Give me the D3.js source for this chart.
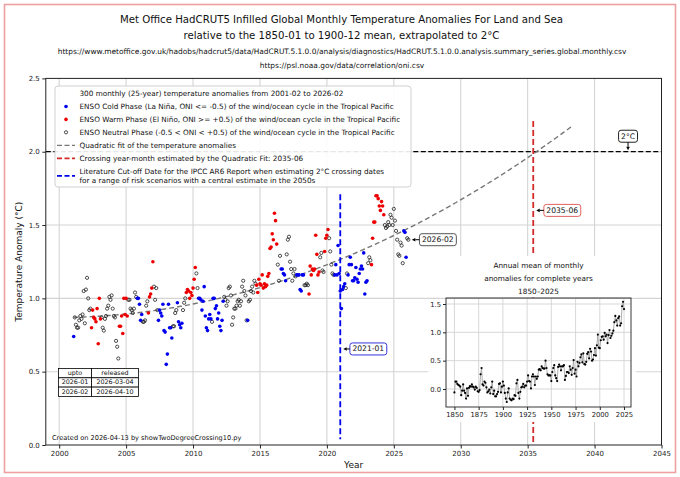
<!DOCTYPE html>
<html>
<head>
<meta charset="utf-8">
<script src="https://cdn.jsdelivr.net/npm/d3@7"></script>
<style>
  body { margin: 0; background: #fff; }
  svg { font-family: "DejaVu Sans", sans-serif; }
</style>
</head>
<body>
<svg id="chart" width="680" height="477"></svg>
<script>
// ---- data ----
const firstYear = 2001, firstMonth = 2;

// monthly anomalies (°C vs 1850-1900), one row per year, 2001 starts in February
const anomalyRows = [
  [0.74, 0.87, 0.82, 0.80, 0.80, 0.85, 0.88, 0.86, 0.89, 1.05, 0.83],
  [1.06, 1.14, 1.00, 0.92, 0.93, 0.80, 0.92, 0.87, 0.86, 0.84, 0.93, 0.69],
  [1.00, 0.86, 0.87, 0.80, 0.78, 0.86, 0.88, 0.93, 0.95, 1.01, 0.99, 1.02],
  [0.93, 0.88, 0.87, 0.71, 0.67, 0.59, 0.81, 0.81, 0.88, 0.76, 1.00, 0.89],
  [1.00, 0.88, 0.99, 0.99, 0.93, 0.92, 0.90, 0.93, 1.04, 1.01, 1.00, 1.00],
  [0.96, 0.85, 0.89, 0.84, 0.84, 0.85, 0.95, 0.98, 0.90, 1.01, 1.03, 1.07],
  [1.25, 1.08, 0.99, 1.07, 0.92, 0.85, 0.92, 0.90, 0.88, 0.96, 0.78, 0.77],
  [0.55, 0.62, 0.96, 0.80, 0.80, 0.73, 0.81, 0.81, 0.90, 0.92, 0.97, 0.84],
  [0.82, 0.80, 0.83, 0.92, 0.97, 1.00, 1.04, 1.06, 1.05, 1.00, 1.04, 1.02],
  [1.07, 1.13, 1.21, 1.17, 1.07, 1.00, 1.00, 0.99, 0.92, 0.98, 1.08, 0.88],
  [0.80, 0.78, 0.86, 0.89, 0.86, 0.84, 1.00, 1.00, 0.93, 0.95, 0.86, 0.90],
  [0.81, 0.78, 0.85, 0.98, 1.01, 0.99, 0.95, 0.98, 1.07, 1.08, 1.02, 0.82],
  [0.87, 0.93, 0.93, 0.95, 0.98, 0.99, 0.95, 0.98, 1.08, 1.12, 1.05, 1.02],
  [0.85, 0.85, 0.98, 0.99, 1.05, 1.08, 1.04, 1.12, 1.10, 1.09, 1.04, 1.13],
  [1.10, 1.09, 1.16, 1.07, 1.10, 1.08, 1.09, 1.15, 1.17, 1.34, 1.35, 1.44],
  [1.40, 1.58, 1.53, 1.37, 1.23, 1.12, 1.29, 1.20, 1.20, 1.17, 1.16, 1.12],
  [1.30, 1.40, 1.42, 1.25, 1.20, 1.12, 1.17, 1.20, 1.15, 1.16, 1.16, 1.16],
  [1.06, 1.05, 1.16, 1.16, 1.09, 1.09, 1.10, 1.09, 1.03, 1.22, 1.16, 1.20],
  [1.19, 1.20, 1.43, 1.30, 1.16, 1.18, 1.28, 1.31, 1.19, 1.18, 1.32, 1.41],
  [1.43, 1.47, 1.41, 1.32, 1.23, 1.17, 1.16, 1.16, 1.23, 1.16, 1.36, 1.17],
  [1.05, 0.93, 1.06, 1.08, 1.10, 1.07, 1.17, 1.16, 1.23, 1.28, 1.23, 1.12],
  [1.12, 1.14, 1.21, 1.13, 1.11, 1.17, 1.20, 1.22, 1.20, 1.31, 1.03, 1.11],
  [1.12, 1.24, 1.28, 1.26, 1.23, 1.41, 1.52, 1.52, 1.70, 1.70, 1.68, 1.63],
  [1.60, 1.66, 1.63, 1.57, 1.50, 1.48, 1.49, 1.52, 1.50, 1.57, 1.55, 1.50],
  [1.61, 1.53, 1.46, 1.40, 1.30, 1.29, 1.38, 1.36, 1.24, 1.46, 1.45, 1.28],
  [1.41, 1.40]
];

// ENSO phase of each month: C = cold (La Niña), W = warm (El Niño), N = neutral
const phaseRows = [
  "CNNNNNNNNNN",
  "NNNNNWWWWWWW",
  "WWNNNNNNNNNN",
  "NNNNNNWWWWWW",
  "WWNNNNNNNNCC",
  "CCCNNNNNWWWW",
  "WNNNNCCCCCCC",
  "CCCCCCNNNNCC",
  "CCCNNNWWWWWW",
  "WWWNNCCCCCCC",
  "CCCCCNCCCCCC",
  "CCCCNNNNNNNN",
  "NNNNNNNNNNNN",
  "NCNNNNNNNWWW",
  "WWWWWWWWWWWW",
  "WWWWNNNCCCCC",
  "NNNNNNNNNCCC",
  "CCCCNNNNWWWW",
  "WWWWWWNNNNWW",
  "WWNNNNNCCCCC",
  "CCCCCNNCCCCC",
  "CCCCCCCCCCCC",
  "CNNNWWWWWWWW",
  "WWWWNNNNNNNN",
  "NNNNNNNNNCCC",
  "NN"
];

// annual means 1850-2025 for the inset
const annualStart = 1850;
const annualMeans = [
  -0.06, 0.13, 0.13, 0.09, 0.07, 0.06, 0.04, -0.11, -0.03, 0.08,
  -0.03, -0.07, -0.17, 0.01, -0.12, 0.02, 0.05, 0.04, 0.08, 0.04,
  0.03, -0.01, 0.04, 0.02, -0.04, -0.05, -0.02, 0.26, 0.37, 0.08,
  0.06, 0.13, 0.11, 0.03, -0.06, -0.04, -0.01, -0.08, 0.03, 0.13,
  -0.09, -0.03, -0.13, -0.13, -0.09, -0.05, 0.09, 0.10, -0.06, 0.04,
  0.13, 0.06, -0.07, -0.17, -0.23, -0.06, 0.01, -0.17, -0.19, -0.20,
  -0.17, -0.18, -0.11, -0.12, 0.10, 0.16, -0.07, -0.17, -0.05, 0.03,
  0.04, 0.09, 0.03, 0.06, 0.06, 0.13, 0.24, 0.14, 0.13, 0.01,
  0.22, 0.26, 0.22, 0.07, 0.22, 0.18, 0.22, 0.34, 0.35, 0.33,
  0.40, 0.37, 0.36, 0.36, 0.50, 0.37, 0.26, 0.24, 0.24, 0.24,
  0.14, 0.30, 0.37, 0.42, 0.24, 0.19, 0.14, 0.39, 0.43, 0.40,
  0.33, 0.40, 0.40, 0.42, 0.16, 0.23, 0.30, 0.30, 0.28, 0.40,
  0.34, 0.25, 0.37, 0.51, 0.27, 0.34, 0.22, 0.48, 0.40, 0.46,
  0.56, 0.61, 0.47, 0.63, 0.44, 0.43, 0.48, 0.62, 0.65, 0.54,
  0.71, 0.66, 0.50, 0.52, 0.60, 0.72, 0.59, 0.77, 0.96, 0.73,
  0.72, 0.86, 0.92, 0.93, 0.87, 0.99, 0.93, 0.96, 0.81, 0.95,
  1.04, 0.90, 0.94, 0.98, 1.03, 1.18, 1.29, 1.21, 1.12, 1.25,
  1.28, 1.12, 1.16, 1.46, 1.54, 1.41
];

const xTicks = [2000, 2005, 2010, 2015, 2020, 2025, 2030, 2035, 2040, 2045];
const yTicks = [0.0, 0.5, 1.0, 1.5, 2.0, 2.5];
const insetXTicks = [1850, 1875, 1900, 1925, 1950, 1975, 2000, 2025];
const insetYTicks = [0.0, 0.5, 1.0, 1.5];

const targetLevel = 2.0;
const crossingLabel = "2035-06";
const ipccCutoffLabel = "2021-01";
const lastLabel = "2026-02";

const titleLines = [
  "Met Office HadCRUT5 Infilled Global Monthly Temperature Anomalies For Land and Sea",
  "relative to the 1850-01 to 1900-12 mean, extrapolated to 2°C"
];
const sourceLines = [
  "https://www.metoffice.gov.uk/hadobs/hadcrut5/data/HadCRUT.5.1.0.0/analysis/diagnostics/HadCRUT.5.1.0.0.analysis.summary_series.global.monthly.csv",
  "https://psl.noaa.gov/data/correlation/oni.csv"
];
const legendLabels = [
  "300 monthly (25-year) temperature anomalies from 2001-02 to 2026-02",
  "ENSO Cold Phase (La Niña, ONI <= -0.5)  of the wind/ocean cycle in the Tropical Pacific",
  "ENSO Warm Phase (El Niño, ONI >= +0.5)  of the wind/ocean cycle in the Tropical Pacific",
  "ENSO Neutral Phase (-0.5 < ONI < +0.5)  of the wind/ocean cycle in the Tropical Pacific",
  "Quadratic fit of the temperature anomalies",
  "Crossing year-month estimated by the Quadratic Fit: 2035-06",
  "Literature Cut-off Date for the IPCC AR6 Report when estimating 2°C crossing dates",
  "for a range of risk scenarios with a central estimate in the 2050s"
];
const releaseTable = [
  ["upto", "released"],
  ["2026-01", "2026-03-04"],
  ["2026-02", "2026-04-10"]
];
const insetTitle = ["Annual mean of monthly", "anomalies for complete years", "1850\u20132025"];
const footnote = "Created on 2026-04-13 by showTwoDegreeCrossing10.py";

// ---- helpers ----
function ymToDecimal(s) {
  const [yy, mm] = s.split("-").map(Number);
  return yy + (mm - 1) / 12;
}

// flatten rows into monthly records
const monthly = [];
anomalyRows.forEach((row, i) => {
  row.forEach((v, j) => {
    const m = (i === 0 ? firstMonth : 1) + j;
    monthly.push({ t: firstYear + i + (m - 1) / 12, value: v, phase: phaseRows[i][j] });
  });
});

// least squares quadratic fit, t measured from the first month
function quadFit(data) {
  const t0 = data[0].t;
  const S = [0, 0, 0, 0, 0], R = [0, 0, 0];
  data.forEach(d => {
    const u = d.t - t0;
    let p = 1;
    for (let k = 0; k < 5; k++) {
      S[k] += p;
      if (k < 3) R[k] += p * d.value;
      p *= u;
    }
  });
  const A = [[S[0], S[1], S[2]], [S[1], S[2], S[3]], [S[2], S[3], S[4]]];
  const det = m => m[0][0] * (m[1][1] * m[2][2] - m[1][2] * m[2][1])
    - m[0][1] * (m[1][0] * m[2][2] - m[1][2] * m[2][0])
    + m[0][2] * (m[1][0] * m[2][1] - m[1][1] * m[2][0]);
  const D = det(A);
  const coef = [0, 1, 2].map(c => det(A.map((r, i) => r.map((v, j) => (j === c ? R[i] : v)))) / D);
  return t => { const u = t - t0; return coef[0] + coef[1] * u + coef[2] * u * u; };
}

const fit = quadFit(monthly);
const crossT = ymToDecimal(crossingLabel);
const cutoffT = ymToDecimal(ipccCutoffLabel);
const lastPoint = monthly[monthly.length - 1];

// ---- layout ----
const svg = d3.select("#chart");
const W = 680, H = 477;
const plot = { left: 45.8, right: 661.5, top: 78.4, bottom: 445 };

const x = d3.scaleLinear().domain([1999, 2045]).range([plot.left, plot.right]);
const y = d3.scaleLinear().domain([0, 2.5]).range([plot.bottom, plot.top]);

const phaseColor = { C: "#0000ee", W: "#ee0000" };

// outer border
svg.append("rect")
  .attr("x", 4.5).attr("y", 4.5).attr("width", W - 9).attr("height", H - 9)
  .attr("fill", "#fff").attr("stroke", "#f0a0a0").attr("stroke-width", 1.6);

// titles
svg.selectAll(".title").data(titleLines).enter().append("text")
  .attr("x", 341.5).attr("y", (d, i) => 22.5 + i * 16)
  .attr("text-anchor", "middle").attr("font-size", 10.2).attr("fill", "#111")
  .text(d => d);
svg.selectAll(".source").data(sourceLines).enter().append("text")
  .attr("x", 342).attr("y", (d, i) => 53.5 + i * 14.5)
  .attr("text-anchor", "middle").attr("font-size", 7.45).attr("fill", "#111")
  .text(d => d);

// grid
const grid = svg.append("g").attr("stroke", "#d4d4d4").attr("stroke-width", 1.1);
grid.selectAll(".gx").data(xTicks.filter(d => d > 1999 && d < 2045)).enter().append("line")
  .attr("x1", d => x(d)).attr("x2", d => x(d)).attr("y1", plot.top).attr("y2", plot.bottom);
grid.selectAll(".gy").data(yTicks.filter(d => d > 0 && d < 2.5)).enter().append("line")
  .attr("x1", plot.left).attr("x2", plot.right).attr("y1", d => y(d)).attr("y2", d => y(d));

// 2°C line
svg.append("line")
  .attr("x1", plot.left).attr("x2", plot.right)
  .attr("y1", y(targetLevel)).attr("y2", y(targetLevel))
  .attr("stroke", "#000").attr("stroke-width", 1.3).attr("stroke-dasharray", "5,2.5");

// quadratic fit, from first month to 3 years past the crossing
const fitTs = d3.range(monthly[0].t, crossT + 3, 0.1);
svg.append("path")
  .datum(fitTs)
  .attr("d", d3.line().x(t => x(t)).y(t => y(fit(t))))
  .attr("fill", "none").attr("stroke", "#777").attr("stroke-width", 1.4)
  .attr("stroke-dasharray", "5,3");

// IPCC cut-off line
svg.append("line")
  .attr("x1", x(cutoffT)).attr("x2", x(cutoffT))
  .attr("y1", y(1.71)).attr("y2", y(0.04))
  .attr("stroke", "#0000ee").attr("stroke-width", 1.8).attr("stroke-dasharray", "6,3");

// crossing line
svg.append("line")
  .attr("x1", x(crossT)).attr("x2", x(crossT))
  .attr("y1", y(2.21)).attr("y2", y(0))
  .attr("stroke", "#d42a2a").attr("stroke-width", 1.8).attr("stroke-dasharray", "6,3");

// monthly points
const pts = svg.append("g");
pts.selectAll(".neutral").data(monthly.filter(d => d.phase === "N")).enter().append("circle")
  .attr("cx", d => x(d.t)).attr("cy", d => y(d.value)).attr("r", 1.6)
  .attr("fill", "none").attr("stroke", "#222").attr("stroke-width", 0.8);
pts.selectAll(".enso").data(monthly.filter(d => d.phase !== "N")).enter().append("circle")
  .attr("cx", d => x(d.t)).attr("cy", d => y(d.value)).attr("r", 1.8)
  .attr("fill", d => phaseColor[d.phase]);

// annotation boxes with arrows
function callout(label, cx, cy, edge, tx, ty) {
  const g = svg.append("g");
  const txt = g.append("text").attr("x", cx).attr("y", cy)
    .attr("text-anchor", "middle").attr("dominant-baseline", "central")
    .attr("font-size", 7.6).attr("fill", "#111").text(label);
  const bb = txt.node().getBBox();
  g.insert("rect", "text")
    .attr("x", bb.x - 2.5).attr("y", bb.y - 1.5)
    .attr("width", bb.width + 5).attr("height", bb.height + 3)
    .attr("rx", 2.5).attr("fill", "#fff").attr("stroke", edge).attr("stroke-width", 1);
  // arrow from box edge to target
  let sx, sy;
  if (ty > bb.y + bb.height) { sx = cx; sy = bb.y + bb.height + 1.5; }
  else { sx = bb.x - 2.5; sy = cy; }
  const ang = Math.atan2(ty - sy, tx - sx);
  const hx = tx - 3.5 * Math.cos(ang), hy = ty - 3.5 * Math.sin(ang);
  g.append("line").attr("x1", sx).attr("y1", sy).attr("x2", hx).attr("y2", hy)
    .attr("stroke", "#000").attr("stroke-width", 1);
  const px = Math.cos(ang + Math.PI / 2) * 1.8, py = Math.sin(ang + Math.PI / 2) * 1.8;
  g.append("path")
    .attr("d", `M${tx},${ty}L${hx + px},${hy + py}L${hx - px},${hy - py}Z`)
    .attr("fill", "#000");
}
callout(lastLabel, x(lastPoint.t) + 29.5, y(lastPoint.value), "#555", x(lastPoint.t) + 3.5, y(lastPoint.value));
callout(ipccCutoffLabel, x(cutoffT) + 28, y(0.655), "#3333dd", x(cutoffT) + 3, y(0.655));
callout(crossingLabel, x(crossT) + 29, y(1.60), "#e06060", x(crossT) + 3, y(1.60));
callout("2°C", x(2042.5), y(targetLevel) - 15.5, "#222", x(2042.5), y(targetLevel) - 1.5);

// legend
const lg = svg.append("g");
lg.append("rect").attr("x", 55).attr("y", 86).attr("width", 356).attr("height", 101)
  .attr("rx", 3).attr("fill", "#fff").attr("fill-opacity", 0.9)
  .attr("stroke", "#d0d0d0").attr("stroke-width", 1);
const rowY = [93.3, 106.5, 119.4, 132.3, 145.4, 158.3, 171.6, 180.2];
lg.selectAll("text").data(legendLabels).enter().append("text")
  .attr("x", 79.5).attr("y", (d, i) => rowY[i])
  .attr("dominant-baseline", "central").attr("font-size", 7.28).attr("fill", "#111")
  .text(d => d);
lg.append("circle").attr("cx", 66).attr("cy", rowY[1]).attr("r", 1.8).attr("fill", phaseColor.C);
lg.append("circle").attr("cx", 66).attr("cy", rowY[2]).attr("r", 1.8).attr("fill", phaseColor.W);
lg.append("circle").attr("cx", 66).attr("cy", rowY[3]).attr("r", 1.6)
  .attr("fill", "none").attr("stroke", "#222").attr("stroke-width", 0.8);
[[rowY[4], "#777", 1.4], [rowY[5], "#d42a2a", 1.8], [(rowY[6] + rowY[7]) / 2, "#0000ee", 1.8]]
  .forEach(([yy, c, w]) => {
    lg.append("line").attr("x1", 57).attr("x2", 75).attr("y1", yy).attr("y2", yy)
      .attr("stroke", c).attr("stroke-width", w).attr("stroke-dasharray", "5,2.5");
  });

// release table
const tbl = svg.append("g").attr("font-size", 6.4).attr("fill", "#111");
const colX = [58.5, 91.5, 138.5], rowTop = 368.5, rowH = 9.3;
releaseTable.forEach((r, i) => {
  r.forEach((cell, j) => {
    tbl.append("rect").attr("x", colX[j]).attr("y", rowTop + i * rowH)
      .attr("width", colX[j + 1] - colX[j]).attr("height", rowH)
      .attr("fill", "#fff").attr("stroke", "#000").attr("stroke-width", 0.8);
    tbl.append("text").attr("x", (colX[j] + colX[j + 1]) / 2).attr("y", rowTop + i * rowH + rowH / 2)
      .attr("text-anchor", "middle").attr("dominant-baseline", "central").text(cell);
  });
});

// footnote
svg.append("text").attr("x", 52).attr("y", 440).attr("font-size", 6.6).attr("fill", "#111").text(footnote);

// main axes
svg.append("rect").attr("x", plot.left).attr("y", plot.top)
  .attr("width", plot.right - plot.left).attr("height", plot.bottom - plot.top)
  .attr("fill", "none").attr("stroke", "#222").attr("stroke-width", 1);
const xAxis = svg.append("g").attr("transform", `translate(0,${plot.bottom})`)
  .call(d3.axisBottom(x).tickValues(xTicks).tickFormat(d3.format("d")).tickSize(3.5).tickPadding(2.5));
const yAxis = svg.append("g").attr("transform", `translate(${plot.left},0)`)
  .call(d3.axisLeft(y).tickValues(yTicks).tickFormat(d3.format(".1f")).tickSize(3.5).tickPadding(2.5));
[xAxis, yAxis].forEach(a => {
  a.select(".domain").remove();
  a.selectAll("text").attr("font-family", "DejaVu Sans").attr("font-size", 7).attr("fill", "#222");
  a.selectAll("line").attr("stroke", "#222");
});
svg.append("text").attr("x", (plot.left + plot.right) / 2).attr("y", 468)
  .attr("text-anchor", "middle").attr("font-size", 9).attr("fill", "#111").text("Year");
svg.append("text").attr("transform", `translate(22,${(plot.top + plot.bottom) / 2}) rotate(-90)`)
  .attr("text-anchor", "middle").attr("font-size", 9).attr("fill", "#111")
  .text("Temperature Anomaly (°C)");

// ---- inset ----
const ins = { left: 446, right: 631, top: 298, bottom: 407 };
// white backing behind the inset title and the tick labels
svg.append("rect").attr("x", 440).attr("y", 256).attr("width", 196).attr("height", 41.5).attr("fill", "#fff");
svg.append("rect").attr("x", 428).attr("y", 299).attr("width", 208).attr("height", 123).attr("fill", "#fff");
const xi = d3.scaleLinear().domain([1841.3, 2032.2]).range([ins.left, ins.right]);
const yi = d3.scaleLinear().domain([-0.318, 1.606]).range([ins.bottom, ins.top]);
const ig = svg.append("g");
ig.selectAll(".igx").data(insetXTicks).enter().append("line")
  .attr("x1", d => xi(d)).attr("x2", d => xi(d)).attr("y1", ins.top).attr("y2", ins.bottom)
  .attr("stroke", "#d4d4d4").attr("stroke-width", 0.9);
ig.selectAll(".igy").data(insetYTicks).enter().append("line")
  .attr("x1", ins.left).attr("x2", ins.right).attr("y1", d => yi(d)).attr("y2", d => yi(d))
  .attr("stroke", "#d4d4d4").attr("stroke-width", 0.9);
const annual = annualMeans.map((v, i) => ({ year: annualStart + i, value: v }));
ig.append("path").datum(annual)
  .attr("d", d3.line().x(d => xi(d.year)).y(d => yi(d.value)))
  .attr("fill", "none").attr("stroke", "#999").attr("stroke-width", 0.8);
ig.selectAll(".ad").data(annual).enter().append("circle")
  .attr("cx", d => xi(d.year)).attr("cy", d => yi(d.value)).attr("r", 1.1).attr("fill", "#000");
ig.append("rect").attr("x", ins.left).attr("y", ins.top)
  .attr("width", ins.right - ins.left).attr("height", ins.bottom - ins.top)
  .attr("fill", "none").attr("stroke", "#222").attr("stroke-width", 0.9);
const ixA = ig.append("g").attr("transform", `translate(0,${ins.bottom})`)
  .call(d3.axisBottom(xi).tickValues(insetXTicks).tickFormat(d3.format("d")).tickSize(3).tickPadding(2));
const iyA = ig.append("g").attr("transform", `translate(${ins.left},0)`)
  .call(d3.axisLeft(yi).tickValues(insetYTicks).tickFormat(d3.format(".1f")).tickSize(3).tickPadding(2));
[ixA, iyA].forEach(a => {
  a.select(".domain").remove();
  a.selectAll("text").attr("font-family", "DejaVu Sans").attr("font-size", 6.8).attr("fill", "#222");
  a.selectAll("line").attr("stroke", "#222");
});
ig.selectAll(".ititle").data(insetTitle).enter().append("text")
  .attr("x", (ins.left + ins.right) / 2).attr("y", (d, i) => 265 + i * 13.4)
  .attr("text-anchor", "middle").attr("dominant-baseline", "central")
  .attr("font-size", 7.3).attr("fill", "#111").text(d => d);
</script>
</body>
</html>
